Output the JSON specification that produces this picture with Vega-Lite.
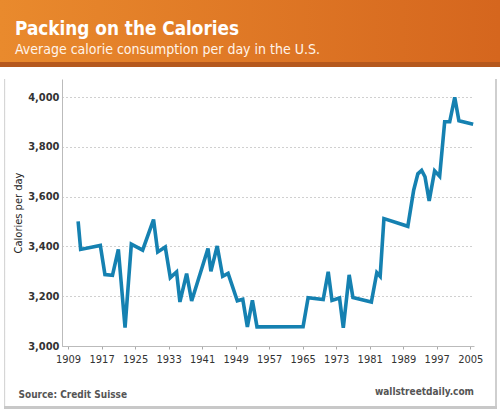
{
  "$schema": "https://vega.github.io/schema/vega-lite/v6.json",
  "padding": 0,
  "spacing": 0,
  "columns": 1,
  "background": "white",
  "config": {
    "view": {"stroke": null},
    "font": "'DejaVu Sans Condensed', Roboto, sans-serif"
  },
  "concat": [
    {
      "width": 500,
      "height": 62,
      "view": {
        "stroke": null,
        "fill": {"gradient": "linear", "x1": 0, "y1": 0, "x2": 1, "y2": 0,
          "stops": [{"offset": 0, "color": "#e98a2d"}, {"offset": 1, "color": "#d5661e"}]}
      },
      "data": {"values": []},
      "mark": "point",
      "title": {
        "text": "Packing on the Calories",
        "subtitle": "Average calorie consumption per day in the U.S.",
        "orient": "top",
        "anchor": "start",
        "frame": "group",
        "offset": -57,
        "dx": 15,
        "font": "'DejaVu Sans Condensed', Roboto, sans-serif",
        "fontSize": 18.8,
        "fontWeight": "bold",
        "color": "#ffffff",
        "subtitleFont": "'DejaVu Sans Condensed', Roboto, sans-serif",
        "subtitleFontSize": 14,
        "subtitleFontWeight": "normal",
        "subtitleColor": "#fff4ea",
        "subtitlePadding": 4
      }
    },
    {
      "width": 500,
      "height": 17,
      "view": {
        "stroke": null,
        "fill": {"gradient": "linear", "x1": 0, "y1": 0, "x2": 0, "y2": 1,
          "stops": [{"offset": 0, "color": "#b5581d"}, {"offset": 0.29, "color": "#b5581d"}, {"offset": 0.3, "color": "#ffffff"}, {"offset": 1, "color": "#ffffff"}]}
      },
      "data": {"values": []},
      "mark": "point"
    },
    {
      "spacing": 0,
      "hconcat": [
        {
          "width": 12,
          "height": 327,
          "view": {
            "stroke": null,
            "fill": {"gradient": "linear", "x1": 0, "y1": 0, "x2": 1, "y2": 0,
              "stops": [{"offset": 0, "color": "#ffffff"}, {"offset": 0.32, "color": "#ffffff"}, {"offset": 0.33, "color": "#d6d6d6"}, {"offset": 0.45, "color": "#d6d6d6"}, {"offset": 0.46, "color": "#ffffff"}, {"offset": 1, "color": "#ffffff"}]}
          },
          "data": {"values": []},
          "mark": "point"
        },
        {
          "width": 412,
          "height": 267,
          "data": {
            "values": [
              {"year": 1911.4, "cal": 3501},
              {"year": 1912.0, "cal": 3388},
              {"year": 1916.7, "cal": 3404},
              {"year": 1917.8, "cal": 3287},
              {"year": 1919.6, "cal": 3284},
              {"year": 1921.0, "cal": 3388},
              {"year": 1922.6, "cal": 3074},
              {"year": 1924.1, "cal": 3409},
              {"year": 1926.8, "cal": 3385},
              {"year": 1929.4, "cal": 3508},
              {"year": 1930.4, "cal": 3378},
              {"year": 1932.2, "cal": 3398},
              {"year": 1933.4, "cal": 3275},
              {"year": 1934.9, "cal": 3298},
              {"year": 1935.7, "cal": 3177},
              {"year": 1937.3, "cal": 3291},
              {"year": 1938.5, "cal": 3181},
              {"year": 1942.4, "cal": 3392},
              {"year": 1943.1, "cal": 3300},
              {"year": 1944.6, "cal": 3402},
              {"year": 1945.9, "cal": 3280},
              {"year": 1947.2, "cal": 3292},
              {"year": 1949.4, "cal": 3182},
              {"year": 1950.7, "cal": 3188},
              {"year": 1951.8, "cal": 3077},
              {"year": 1953.0, "cal": 3184},
              {"year": 1954.1, "cal": 3077},
              {"year": 1965.1, "cal": 3078},
              {"year": 1966.3, "cal": 3194},
              {"year": 1969.9, "cal": 3187},
              {"year": 1971.1, "cal": 3298},
              {"year": 1972.0, "cal": 3183},
              {"year": 1973.8, "cal": 3193},
              {"year": 1974.7, "cal": 3073},
              {"year": 1976.1, "cal": 3286},
              {"year": 1977.0, "cal": 3195},
              {"year": 1981.4, "cal": 3177},
              {"year": 1982.7, "cal": 3295},
              {"year": 1983.5, "cal": 3280},
              {"year": 1984.4, "cal": 3512},
              {"year": 1990.1, "cal": 3481},
              {"year": 1991.5, "cal": 3626},
              {"year": 1992.5, "cal": 3692},
              {"year": 1993.4, "cal": 3706},
              {"year": 1994.2, "cal": 3680},
              {"year": 1995.2, "cal": 3583},
              {"year": 1996.5, "cal": 3704},
              {"year": 1997.7, "cal": 3682},
              {"year": 1998.9, "cal": 3901},
              {"year": 2000.1, "cal": 3901},
              {"year": 2001.3, "cal": 3999},
              {"year": 2002.3, "cal": 3905},
              {"year": 2005.7, "cal": 3891}
            ]
          },
          "mark": {"type": "line", "color": "#1581b1", "strokeWidth": 3.6},
          "encoding": {
            "x": {
              "field": "year",
              "type": "quantitative",
              "scale": {"domain": [1907.55, 2005.9], "nice": false, "zero": false},
              "axis": {
                "values": [1909, 1917, 1925, 1933, 1941, 1949, 1957, 1965, 1973, 1981, 1989, 1997, 2005],
                "format": "d",
                "grid": false,
                "labelFlush": false,
                "labelFontSize": 11,
                "labelColor": "#333333",
                "labelPadding": 4,
                "tickColor": "#aaaaaa",
                "tickSize": 3,
                "domainColor": "#bbbbbb",
                "title": "Source: Credit Suisse",
                "titleAlign": "left",
                "titleX": -44,
                "titleY": 51,
                "titleBaseline": "alphabetic",
                "titleFontSize": 10,
                "titleFontWeight": "bold",
                "titleColor": "#555555"
              }
            },
            "y": {
              "field": "cal",
              "type": "quantitative",
              "scale": {"domain": [3000, 4073], "nice": false, "zero": false},
              "axis": {
                "values": [3000, 3200, 3400, 3600, 3800, 4000],
                "format": ",d",
                "ticks": false,
                "labelFontSize": 11,
                "labelFontWeight": "bold",
                "labelColor": "#333333",
                "labelPadding": 3,
                "domainColor": "#bbbbbb",
                "gridColor": "#a0a0a0",
                "gridDash": [1, 3],
                "title": "Calories per day",
                "titleFontSize": 11,
                "titleFontWeight": "normal",
                "titleColor": "#222222",
                "titlePadding": 4
              }
            }
          },
          "title": {
            "text": "wallstreetdaily.com",
            "orient": "bottom",
            "anchor": "end",
            "frame": "group",
            "offset": -12,
            "fontSize": 10,
            "fontWeight": "bold",
            "color": "#555555"
          }
        },
        {
          "width": 16,
          "height": 327,
          "view": {
            "stroke": null,
            "fill": {"gradient": "linear", "x1": 0, "y1": 0, "x2": 1, "y2": 0,
              "stops": [{"offset": 0, "color": "#ffffff"}, {"offset": 0.74, "color": "#ffffff"}, {"offset": 0.75, "color": "#cfcfcf"}, {"offset": 0.87, "color": "#cfcfcf"}, {"offset": 0.88, "color": "#ffffff"}, {"offset": 1, "color": "#ffffff"}]}
          },
          "data": {"values": []},
          "mark": "point"
        }
      ]
    },
    {
      "width": 500,
      "height": 3,
      "view": {
        "stroke": null,
        "fill": {"gradient": "linear", "x1": 0, "y1": 0, "x2": 1, "y2": 0,
          "stops": [{"offset": 0, "color": "#ffffff"}, {"offset": 0.007, "color": "#ffffff"}, {"offset": 0.008, "color": "#c8c8c8"}, {"offset": 0.993, "color": "#c8c8c8"}, {"offset": 0.994, "color": "#ffffff"}, {"offset": 1, "color": "#ffffff"}]}
      },
      "data": {"values": []},
      "mark": "point"
    }
  ]
}
